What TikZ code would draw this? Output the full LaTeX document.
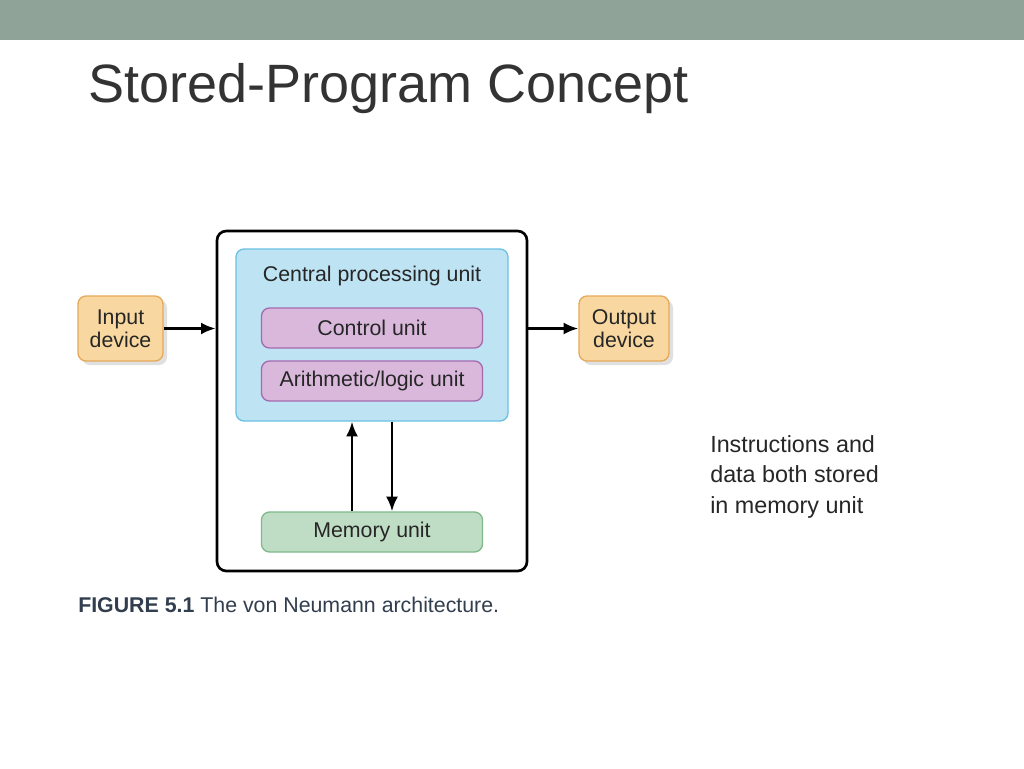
\documentclass[tikz,border=0pt]{standalone}
\usepackage{fontspec}
\setmainfont{Liberation Sans}
\usetikzlibrary{arrows.meta}
\begin{document}
\begin{tikzpicture}[x=0.75pt,y=-0.75pt,
 box/.style={draw,line width=1pt,rounded corners=6pt,font=\fontsize{16}{17.5}\selectfont,text=black!85},
 arr/.style={line width=2pt,-{Latex[length=11pt,width=9pt]}}]
\useasboundingbox (0,0) rectangle (1024,768);
\fill[white] (0,0) rectangle (1024,768);
\fill[fill={rgb,255:red,143;green,163;blue,153}] (0,0) rectangle (1024,40);
\node[anchor=base west,inner sep=0,font=\fontsize{40.5}{44}\selectfont,text=black!80] (title) at (88,102) {Stored-Program Concept};
\node[draw,line width=2pt,rounded corners=7pt,minimum width=310pt*0.75,minimum height=340pt*0.75] (outer) at (372,401) {};
\node[box,draw={rgb,255:red,107;green,193;blue,227},fill={rgb,255:red,190;green,227;blue,243},minimum width=272pt*0.75,minimum height=172pt*0.75] (cpu) at (372,335) {};
\node[anchor=center,font=\fontsize{16}{17.5}\selectfont,text=black!85] (cpul) at (372,276) {Central processing unit};
\tikzset{pur/.style={box,draw={rgb,255:red,166;green,107;blue,174},fill={rgb,255:red,217;green,184;blue,220},minimum width=221pt*0.75,minimum height=40pt*0.75}}
\node[pur] (cu) at (372,328) {Control unit};
\node[pur] (alu) at (372,381) {Arithmetic/logic unit};
\node[box,draw={rgb,255:red,127;green,185;blue,138},fill={rgb,255:red,191;green,221;blue,196},minimum width=221pt*0.75,minimum height=40pt*0.75] (mem) at (372,532) {Memory unit};
\tikzset{dev/.style={box,align=center,draw={rgb,255:red,229;green,169;blue,90},fill={rgb,255:red,248;green,216;blue,160},minimum height=65pt*0.75,inner sep=2pt}}
\fill[black!12,rounded corners=6pt] (82,300) rectangle (167,365);
\fill[black!12,rounded corners=6pt] (583,300) rectangle (673,365);
\node[dev,minimum width=85pt*0.75] (in) at (120.5,328.5) {Input\\device};
\node[dev,minimum width=90pt*0.75] (out) at (624,328.5) {Output\\device};
\draw[arr] (in.east) -- (outer.west |- in.east);
\draw[arr] (outer.east |- out.west) -- (out.west);
\draw[arr] (mem.north -| 352,0) -- (cpu.south -| 352,0);
\draw[arr] (cpu.south -| 392,0) -- (mem.north -| 392,0);
\node[anchor=base west,inner sep=0,font=\fontsize{16}{18}\selectfont,text={rgb,255:red,50;green,62;blue,78}] (cap) at (78,612) {\textbf{FIGURE 5.1} The von Neumann architecture.};
\node[anchor=north west,inner sep=0,align=left,font=\fontsize{17.5}{23}\selectfont,text=black!85] (note) at (710,435) {Instructions and\\data both stored\\in memory unit};
\end{tikzpicture}
\end{document}
